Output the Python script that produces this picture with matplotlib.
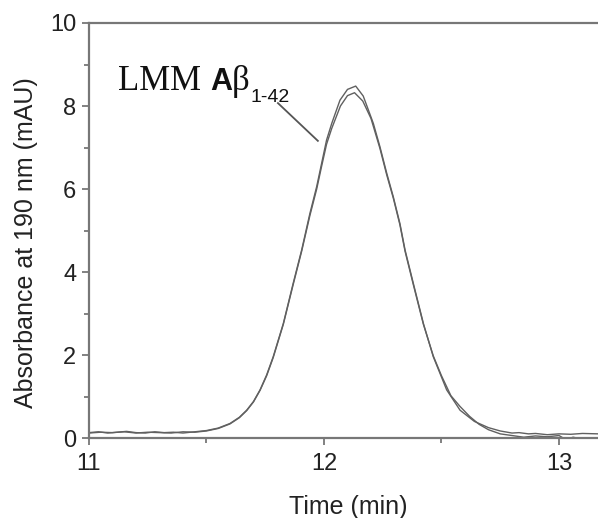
import matplotlib
matplotlib.use("Agg")
import matplotlib.pyplot as plt
from matplotlib.ticker import MultipleLocator

# run 1 (slightly higher peak)
time_a = [11.00, 11.04, 11.08, 11.12, 11.16, 11.20, 11.24, 11.28, 11.32, 11.36,
          11.40, 11.45, 11.50, 11.55, 11.60, 11.64, 11.671, 11.70, 11.728, 11.756,
          11.784, 11.827, 11.869, 11.905, 11.94, 11.969, 11.99, 12.011, 12.033, 12.068,
          12.10, 12.135, 12.167, 12.21, 12.238, 12.267, 12.295, 12.323, 12.345, 12.38,
          12.423, 12.465, 12.522, 12.579, 12.64, 12.70, 12.75, 12.80, 12.83, 12.87,
          12.90, 12.95, 13.00, 13.05, 13.10, 13.17]
abs_a = [0.13, 0.15, 0.12, 0.14, 0.16, 0.13, 0.12, 0.15, 0.13, 0.14,
         0.12, 0.15, 0.18, 0.24, 0.35, 0.50, 0.67, 0.88, 1.16, 1.52,
         1.96, 2.76, 3.73, 4.53, 5.41, 6.06, 6.62, 7.18, 7.58, 8.14,
         8.40, 8.48, 8.24, 7.58, 7.02, 6.38, 5.81, 5.17, 4.53, 3.73,
         2.76, 1.96, 1.16, 0.67, 0.40, 0.25, 0.17, 0.12, 0.13, 0.10,
         0.11, 0.08, 0.10, 0.09, 0.11, 0.10]

# run 2
time_b = [11.00, 11.05, 11.10, 11.15, 11.20, 11.25, 11.30, 11.35, 11.40, 11.45,
          11.50, 11.55, 11.60, 11.64, 11.671, 11.70, 11.728, 11.756, 11.784, 11.827,
          11.869, 11.905, 11.94, 11.969, 11.99, 12.011, 12.033, 12.07, 12.10, 12.13,
          12.165, 12.20, 12.238, 12.267, 12.295, 12.323, 12.345, 12.38, 12.423, 12.465,
          12.50, 12.54, 12.579, 12.62, 12.66, 12.70, 12.75, 12.80, 12.85, 12.90,
          12.95, 13.00, 13.03, 13.06, 13.10, 13.17]
abs_b = [0.12, 0.14, 0.13, 0.15, 0.12, 0.14, 0.13, 0.12, 0.15, 0.14,
         0.17, 0.23, 0.34, 0.49, 0.66, 0.87, 1.15, 1.50, 1.94, 2.74,
         3.70, 4.50, 5.36, 6.00, 6.55, 7.08, 7.46, 8.00, 8.25, 8.32,
         8.12, 7.70, 6.98, 6.34, 5.78, 5.14, 4.50, 3.70, 2.74, 1.98,
         1.50, 1.02, 0.76, 0.52, 0.33, 0.20, 0.10, 0.06, 0.02, 0.05,
         0.03, 0.06, -0.04, 0.02, -0.03, 0.01]

xlim = (11.0, 13.166)
ylim = (0.0, 10.0)

plt.rcParams['font.family'] = ['Liberation Sans', 'DejaVu Sans']

fig = plt.figure(figsize=(5.98, 5.18), dpi=100)
ax = fig.add_axes([0.1488, 0.1544, 0.8512, 0.8012])

line_col = '#606060'
ax.plot(time_a, abs_a, color=line_col, lw=1.0)
ax.plot(time_b, abs_b, color=line_col, lw=1.0)

ax.set_xlim(*xlim)
ax.set_ylim(*ylim)
ax.xaxis.set_major_locator(MultipleLocator(1))
ax.xaxis.set_minor_locator(MultipleLocator(0.5))
ax.yaxis.set_major_locator(MultipleLocator(2))
ax.yaxis.set_minor_locator(MultipleLocator(1))

spine_col = '#777777'
for side in ['left', 'bottom', 'top']:
    ax.spines[side].set_color(spine_col)
    ax.spines[side].set_linewidth(1.6)
ax.spines['right'].set_visible(False)
ax.tick_params(which='both', direction='out', color=spine_col, width=1.3)
ax.tick_params(which='major', length=5, labelsize=17, labelcolor='#222222')
ax.tick_params(axis='y', pad=4)
ax.tick_params(axis='x', pad=6, top=False)
ax.tick_params(which='minor', length=3.5)

ax.set_xlabel('Time (min)', fontsize=18, color='#222222', labelpad=14)
ax.set_ylabel('Absorbance at 190 nm (mAU)', fontsize=18, color='#222222', labelpad=9)
ax.yaxis.label.set_y(0.472)
ax.xaxis.label.set_x(0.51)

# label pieces, chained left to right
fig.canvas.draw()
r = fig.canvas.get_renderer()
base_y = 1 - 90 / 518
t1 = fig.text(118 / 598, base_y, 'LMM ', fontsize=25, family='Liberation Serif',
              color='#111111', va='baseline')
bb = t1.get_window_extent(r)
t2 = fig.text(bb.x1 / fig.bbox.width, base_y, 'A', fontsize=22, fontweight='bold',
              color='#111111', va='baseline')
bb = t2.get_window_extent(r)
t3 = fig.text(bb.x1 / fig.bbox.width, base_y, 'β', fontsize=25, family='Liberation Serif',
              color='#111111', va='baseline')
bb = t3.get_window_extent(r)
fig.text(bb.x1 / fig.bbox.width + 0.002, 1 - 102 / 518, '1-42', fontsize=14,
         color='#111111', va='baseline')

ax.plot([11.804, 11.974], [8.07, 7.16], color='#555555', lw=1.3)

fig.savefig('out.png', dpi=100)
